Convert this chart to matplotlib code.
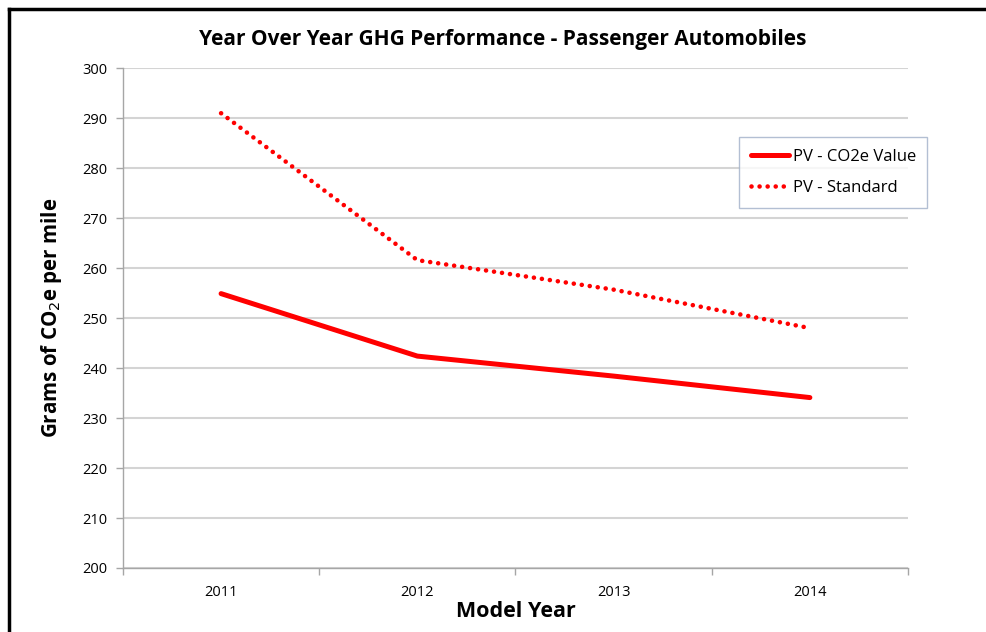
import matplotlib.pyplot as plt
from matplotlib.lines import Line2D

plt.rcParams['font.family'] = ['Open Sans', 'DejaVu Sans']

years = ["2011", "2012", "2013", "2014"]
co2e_value = [254.9, 242.4, 238.4, 234.1]
standard = [291.0, 261.6, 255.7, 248.0]

fig = plt.figure(figsize=(9.86, 6.32), dpi=100)
ax = fig.add_axes([0.1247, 0.1013, 0.7962, 0.7907])

x = list(range(len(years)))
ax.plot(x, co2e_value, color="#ff0000", lw=3.6, solid_capstyle="round",
        solid_joinstyle="round", label="PV - CO2e Value", zorder=3)
ax.plot(x, standard, color="#ff0000", lw=3.3, linestyle=(0, (0.01, 1.75)),
        dash_capstyle="round", label="PV - Standard", zorder=3)

ax.set_xlim(-0.5, 3.5)
ax.set_ylim(200, 300)
ax.set_yticks(range(200, 301, 10))
ax.set_xticks(x)
ax.set_xticklabels(years)
ax.set_xticks([-0.5, 0.5, 1.5, 2.5, 3.5], minor=True)
ax.tick_params(axis="x", which="major", length=0, pad=12, labelsize=10.5)
ax.tick_params(axis="x", which="minor", length=5, color="#a6a6a6", width=1)
ax.tick_params(axis="y", length=5, color="#a6a6a6", width=1, labelsize=10.5, pad=6)

ax.grid(axis="y", color="#d4d4d4", lw=1.5)
ax.set_axisbelow(True)
for side in ("top", "right"):
    ax.spines[side].set_visible(False)
for side in ("left", "bottom"):
    ax.spines[side].set_color("#a6a6a6")
    ax.spines[side].set_linewidth(1)

ax.set_xlabel("Model Year", fontsize=15.5, fontweight="bold", labelpad=1)
ax.set_ylabel("Grams of CO$_2$e per mile", fontsize=14.8, fontweight="bold", labelpad=13)
fig.text(0.51, 0.937, "Year Over Year GHG Performance - Passenger Automobiles",
         ha="center", va="center", fontsize=15, fontweight="bold")

leg = ax.legend(loc="upper left", bbox_to_anchor=(0.785, 0.862), frameon=True,
                fancybox=False, fontsize=12, handlelength=2.3, borderpad=0.7,
                labelspacing=0.92, handletextpad=0.2, borderaxespad=0)
leg.get_frame().set_edgecolor("#a0b0c8")
leg.get_frame().set_linewidth(1)

# black frame top and left
fig.add_artist(Line2D([0.009, 1.0], [0.985, 0.985], color="black", lw=2.5,
                      transform=fig.transFigure))
fig.add_artist(Line2D([0.009, 0.009], [0.0, 0.985], color="black", lw=2.5,
                      transform=fig.transFigure))

fig.savefig("out.png", dpi=100)
